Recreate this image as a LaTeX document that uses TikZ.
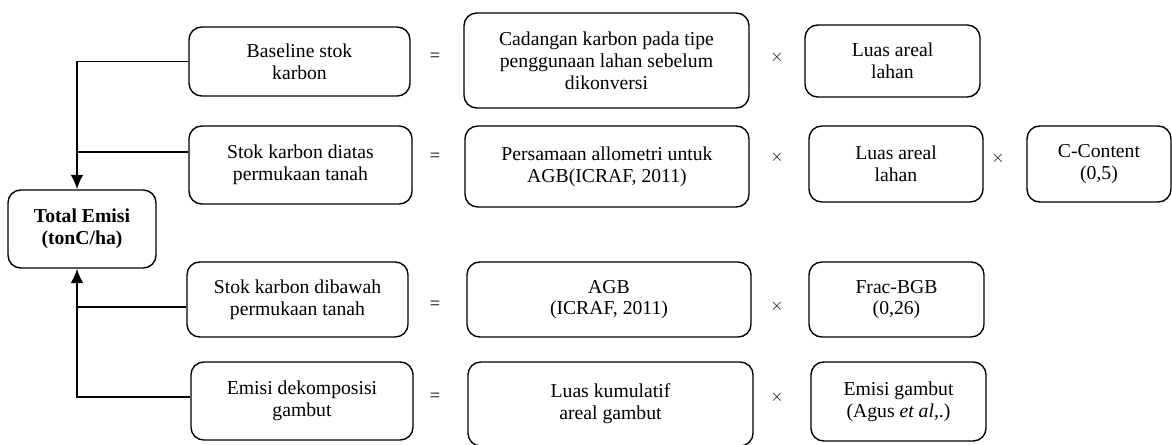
\documentclass[tikz,border=0pt]{standalone}
\usepackage{fontspec}
\setmainfont{Liberation Serif}
\usepackage{tikz}
\usetikzlibrary{arrows.meta}
\tikzset{>={Latex[length=3.6mm,width=3.2mm]}}
\tikzset{kotak/.style={draw, line width=1pt, rounded corners=0.32cm, align=center, inner sep=0pt,
    font=\fontsize{14}{15.5}\selectfont}}
\tikzset{garis/.style={line width=1.3pt}}
\tikzset{operasi/.style={inner sep=0pt, font=\fontsize{13}{14}\selectfont}}

\begin{document}
\begin{tikzpicture}[x=0.025cm, y=-0.025cm]
\useasboundingbox (0,0) rectangle (1172,445);
  % Total emisi
  \node[kotak, minimum width=3.7cm, minimum height=1.95cm, font=\fontsize{14}{15.5}\selectfont\bfseries] (total) at (82,229) {Total Emisi\\(tonC/ha)};

  % kolom kiri
  \node[kotak, minimum width=5.525cm, minimum height=1.725cm] (baseline) at (299.5,61.5) {Baseline stok\\karbon};
  \node[kotak, minimum width=5.575cm, minimum height=1.95cm] (diatas) at (300.5,165) {Stok karbon diatas\\permukaan tanah};
  \node[kotak, minimum width=5.525cm, minimum height=1.875cm] (dibawah) at (297.5,299.5) {Stok karbon dibawah\\permukaan tanah};
  \node[kotak, minimum width=5.55cm, minimum height=1.95cm] (dekomposisi) at (302,401) {Emisi dekomposisi\\gambut};

  % kolom tengah
  \node[kotak, minimum width=7.125cm, minimum height=2.375cm] (cadangan) at (606.5,60.5) {Cadangan karbon pada tipe\\penggunaan lahan sebelum\\dikonversi};
  \node[kotak, minimum width=7.1cm, minimum height=2.025cm] (allometri) at (607,166.5) {Persamaan allometri untuk\\AGB(ICRAF, 2011)};
  \node[kotak, minimum width=7.1cm, minimum height=1.875cm] (agb) at (609,299.5) {AGB\\(ICRAF, 2011)};
  \node[kotak, minimum width=7.125cm, minimum height=2.1cm] (kumulatif) at (610.5,404) {Luas kumulatif\\areal gambut};

  % kolom kanan
  \node[kotak, minimum width=4.375cm, minimum height=1.8cm] (luasA) at (892.5,61) {Luas areal\\lahan};
  \node[kotak, minimum width=4.35cm, minimum height=1.9cm] (luasB) at (896,164) {Luas areal\\lahan};
  \node[kotak, minimum width=4.375cm, minimum height=1.875cm] (fracbgb) at (896.5,299.5) {Frac-BGB\\(0,26)};
  \node[kotak, minimum width=4.375cm, minimum height=1.975cm] (gambut) at (898.5,401.5) {Emisi gambut\\(Agus \textit{et al},.)};
  \node[kotak, minimum width=3.6cm, minimum height=1.9cm] (ccontent) at (1099,164) {C-Content\\(0,5)};

  % tanda = dan x
  \foreach \y/\n in {57/1,157/2,305/3,397/4}
    \node[operasi] (sama\n) at (435,\y) {=};
  \foreach \y/\n in {57/1,157/2,306/3,397/4}
    \node[operasi] (kali\n) at (777,\y) {$\times$};
  \node[operasi] (kali5) at (998,158) {$\times$};

  % garis ke total emisi
  \coordinate (sumbu) at (77,0);
  \coordinate (t2) at ([yshift=0.325cm]diatas.west);
  \coordinate (t3) at ([yshift=-0.19cm]dibawah.west);
  \draw[garis, ->] (baseline.west) -| ([xshift=-0.125cm]total.north);
  \draw[garis] (t2) -- (t2 -| sumbu);
  \draw[garis, ->] ([yshift=0.1cm]dekomposisi.west) -| ([xshift=-0.125cm]total.south);
  \draw[garis] (t3) -- (t3 -| sumbu);
\end{tikzpicture}
\end{document}
